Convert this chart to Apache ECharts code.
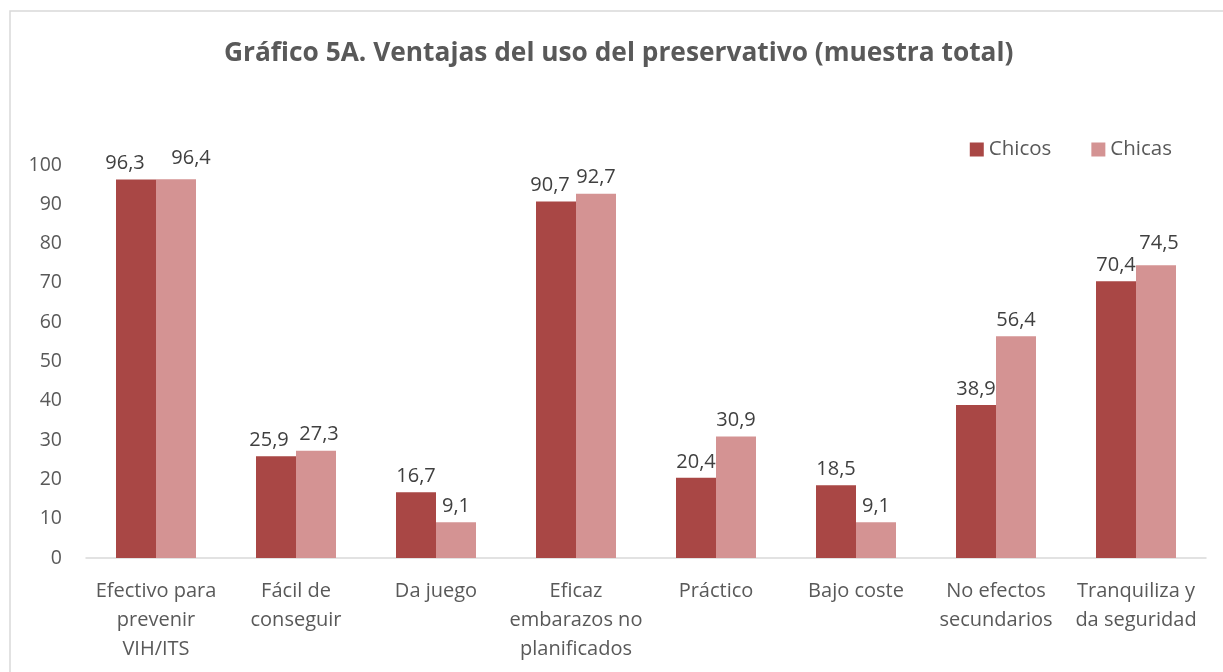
<!DOCTYPE html>
<html>
<head>
<meta charset="utf-8">
<script src="https://cdn.jsdelivr.net/npm/echarts@6/dist/echarts.min.js"></script>
<style>
  html, body { margin: 0; padding: 0; background: #fff; }
  #chart { width: 1223px; height: 672px; }
</style>
</head>
<body>
<div id="chart"></div>
<script>
const categories = [
  "Efectivo para\nprevenir\nVIH/ITS",
  "Fácil de\nconseguir",
  "Da juego",
  "Eficaz\nembarazos no\nplanificados",
  "Práctico",
  "Bajo coste",
  "No efectos\nsecundarios",
  "Tranquiliza y\nda seguridad"
];
const chicos = [96.3, 25.9, 16.7, 90.7, 20.4, 18.5, 38.9, 70.4];
const chicas = [96.4, 27.3, 9.1, 92.7, 30.9, 9.1, 56.4, 74.5];

// label nudges so neighbouring labels don't collide (as in the original)
const chicosNudge = { 0: [-11, 0], 1: [-7, 0], 3: [-6, 0] };
const chicasNudge = { 0: [15, -5], 1: [3, 0], 7: [3, -6] };

const font = "Open Sans";
const fmt = (p) => String(p.value).replace(".", ",");

const withNudge = (values, nudge) =>
  values.map((v, i) => (nudge[i] ? { value: v, label: { offset: nudge[i] } } : v));

const chart = echarts.init(document.getElementById("chart"));
chart.setOption({
  animation: false,
  textStyle: { fontFamily: font },
  graphic: [
    {
      type: "rect",
      shape: { x: 10, y: 11, width: 1400, height: 800 },
      style: { fill: "none", stroke: "#d9d9d9", lineWidth: 1.5 }
    }
  ],
  title: {
    text: "Gráfico 5A. Ventajas del uso del preservativo (muestra total)",
    left: 219,
    top: 36,
    textStyle: { fontFamily: font, fontSize: 26.3, fontWeight: "bold", color: "#595959" }
  },
  legend: {
    right: 46,
    top: 134,
    itemWidth: 14,
    itemHeight: 14,
    itemGap: 40,
    icon: "rect",
    textStyle: { fontFamily: font, fontSize: 20.5, color: "#595959" },
    data: ["Chicos", "Chicas"]
  },
  grid: { left: 86, right: 17, top: 165, bottom: 114, containLabel: false },
  xAxis: {
    type: "category",
    data: categories,
    axisLine: { lineStyle: { color: "#d9d9d9", width: 1.5 } },
    axisTick: { show: false },
    axisLabel: {
      interval: 0,
      color: "#595959",
      fontSize: 20,
      lineHeight: 29,
      margin: 19
    }
  },
  yAxis: {
    type: "value",
    min: 0,
    max: 100,
    interval: 10,
    axisLine: { show: false },
    axisTick: { show: false },
    splitLine: { show: false },
    axisLabel: { color: "#595959", fontSize: 19.5, margin: 24 }
  },
  series: [
    {
      name: "Chicos",
      type: "bar",
      data: withNudge(chicos, chicosNudge),
      barWidth: 40,
      barGap: "0%",
      itemStyle: { color: "#a94745" },
      label: { show: true, position: "top", distance: 6, formatter: fmt, color: "#404040", fontSize: 20 }
    },
    {
      name: "Chicas",
      type: "bar",
      data: withNudge(chicas, chicasNudge),
      barWidth: 40,
      itemStyle: { color: "#d49393" },
      label: { show: true, position: "top", distance: 6, formatter: fmt, color: "#404040", fontSize: 20 }
    }
  ]
});
</script>
</body>
</html>
